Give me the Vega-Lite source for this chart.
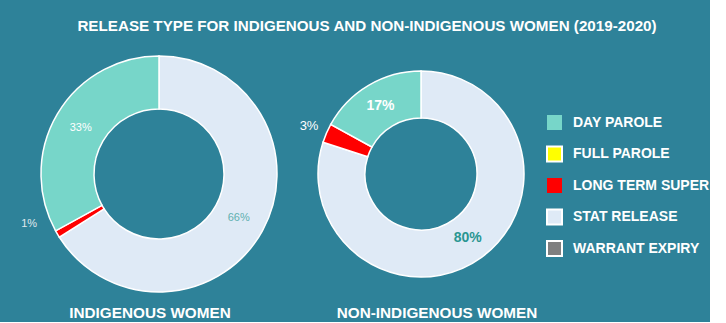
{
  "$schema": "https://vega.github.io/schema/vega-lite/v6.json",
  "background": "#2e8299",
  "padding": {"left": 0, "top": 18, "right": 0, "bottom": 0},
  "bounds": "flush",
  "title": {"text": "RELEASE TYPE FOR INDIGENOUS AND NON-INDIGENOUS WOMEN (2019-2020)", "color": "#ffffff", "font": "Liberation Sans", "fontSize": 15.2, "fontWeight": "bold", "anchor": "middle", "frame": "bounds", "offset": 17, "dx": 12},
  "datasets": {
    "release": [
      {"group": "INDIGENOUS WOMEN", "type": "STAT RELEASE", "share": 0.66},
      {"group": "INDIGENOUS WOMEN", "type": "LONG TERM SUPER", "share": 0.01},
      {"group": "INDIGENOUS WOMEN", "type": "DAY PAROLE", "share": 0.33},
      {"group": "NON-INDIGENOUS WOMEN", "type": "STAT RELEASE", "share": 0.80},
      {"group": "NON-INDIGENOUS WOMEN", "type": "LONG TERM SUPER", "share": 0.03},
      {"group": "NON-INDIGENOUS WOMEN", "type": "DAY PAROLE", "share": 0.17}
    ]
  },
  "config": {"view": {"stroke": null}, "font": "Liberation Sans", "concat": {"spacing": 0}},
  "spacing": 0,
  "resolve": {"scale": {"color": "shared"}},
  "hconcat": [
    {
      "width": 318, "height": 246,
      "data": {"name": "release"},
      "transform": [{"filter": "datum.group === 'INDIGENOUS WOMEN'"}],
      "title": {"text": "INDIGENOUS WOMEN", "orient": "bottom", "anchor": "middle", "dx": -9, "offset": 9, "color": "#ffffff", "font": "Liberation Sans", "fontSize": 15.3, "fontWeight": "bold"},
      "encoding": {
        "theta": {"field": "share", "type": "quantitative", "stack": true},
        "order": {"field": "type", "sort": "descending"}
      },
      "layer": [
        {
          "mark": {"type": "arc", "outerRadius": 118, "innerRadius": 65, "stroke": "#ffffff", "strokeWidth": 1.5},
          "encoding": {
            "color": {
              "field": "type", "type": "nominal",
              "scale": {"domain": ["DAY PAROLE", "FULL PAROLE", "LONG TERM SUPER", "STAT RELEASE", "WARRANT EXPIRY"], "range": ["#77d6c9", "#ffff00", "#ff0000", "#dfeaf6", "#7f7f7f"]},
              "legend": {"orient": "none", "legendX": 546, "legendY": 63, "title": null, "symbolType": "square", "symbolSize": 225, "labelColor": "#ffffff", "labelFont": "Liberation Sans", "labelFontSize": 14, "labelFontWeight": "bold", "labelOffset": 10, "rowPadding": 8.5, "symbolStrokeWidth": 2, "symbolOpacity": 1,
                "symbolStrokeColor": {"expr": "datum.value === 'DAY PAROLE' || datum.value === 'LONG TERM SUPER' ? 'transparent' : '#ffffff'"},
                "symbolFillColor": {"expr": "datum.value === 'LONG TERM SUPER' ? '#c00000' : datum.value === 'DAY PAROLE' ? '#77d6c9' : datum.value === 'FULL PAROLE' ? '#ffff00' : datum.value === 'STAT RELEASE' ? '#dfeaf6' : '#7f7f7f'"}}
            }
          }
        },
        {
          "mark": {"type": "text", "radius": 91, "fontSize": 11, "font": "Liberation Sans"},
          "encoding": {
            "text": {"field": "share", "type": "quantitative", "format": ".0%"},
            "color": {"condition": {"test": "datum.type === 'STAT RELEASE'", "value": "#5fb0b0"}, "value": "#ffffff"},
            "opacity": {"condition": {"test": "datum.type === 'LONG TERM SUPER'", "value": 0}, "value": 1}
          }
        },
        {
          "mark": {"type": "text", "radius": 130, "dx": -18, "dy": -16, "fontSize": 11, "font": "Liberation Sans", "color": "#e0e8ee"},
          "encoding": {
            "text": {"field": "share", "type": "quantitative", "format": ".0%"},
            "opacity": {"condition": {"test": "datum.type === 'LONG TERM SUPER'", "value": 1}, "value": 0}
          }
        }
      ]
    },
    {
      "width": 206, "height": 246,
      "data": {"name": "release"},
      "transform": [{"filter": "datum.group === 'NON-INDIGENOUS WOMEN'"}],
      "title": {"text": "NON-INDIGENOUS WOMEN", "orient": "bottom", "anchor": "middle", "dx": 16, "offset": 9, "color": "#ffffff", "font": "Liberation Sans", "fontSize": 15.3, "fontWeight": "bold"},
      "encoding": {
        "theta": {"field": "share", "type": "quantitative", "stack": true},
        "order": {"field": "type", "sort": "descending"}
      },
      "layer": [
        {
          "mark": {"type": "arc", "outerRadius": 103, "innerRadius": 56, "stroke": "#ffffff", "strokeWidth": 1.5},
          "encoding": {
            "color": {
              "field": "type", "type": "nominal",
              "scale": {"domain": ["DAY PAROLE", "FULL PAROLE", "LONG TERM SUPER", "STAT RELEASE", "WARRANT EXPIRY"], "range": ["#77d6c9", "#ffff00", "#ff0000", "#dfeaf6", "#7f7f7f"]},
              "legend": {"orient": "none", "legendX": 546, "legendY": 63, "title": null, "symbolType": "square", "symbolSize": 225, "labelColor": "#ffffff", "labelFont": "Liberation Sans", "labelFontSize": 14, "labelFontWeight": "bold", "labelOffset": 10, "rowPadding": 8.5, "symbolStrokeWidth": 2, "symbolOpacity": 1,
                "symbolStrokeColor": {"expr": "datum.value === 'DAY PAROLE' || datum.value === 'LONG TERM SUPER' ? 'transparent' : '#ffffff'"},
                "symbolFillColor": {"expr": "datum.value === 'LONG TERM SUPER' ? '#c00000' : datum.value === 'DAY PAROLE' ? '#77d6c9' : datum.value === 'FULL PAROLE' ? '#ffff00' : datum.value === 'STAT RELEASE' ? '#dfeaf6' : '#7f7f7f'"}}
            }
          }
        },
        {
          "mark": {"type": "text", "radius": 79.5, "fontSize": 14, "fontWeight": "bold", "font": "Liberation Sans"},
          "encoding": {
            "text": {"field": "share", "type": "quantitative", "format": ".0%"},
            "color": {"condition": {"test": "datum.type === 'STAT RELEASE'", "value": "#2a9692"}, "value": "#ffffff"},
            "opacity": {"condition": {"test": "datum.type === 'LONG TERM SUPER'", "value": 0}, "value": 1}
          }
        },
        {
          "mark": {"type": "text", "radius": 122, "fontSize": 13, "font": "Liberation Sans", "color": "#ffffff"},
          "encoding": {
            "text": {"field": "share", "type": "quantitative", "format": ".0%"},
            "opacity": {"condition": {"test": "datum.type === 'LONG TERM SUPER'", "value": 1}, "value": 0}
          }
        }
      ]
    }
  ]
}
